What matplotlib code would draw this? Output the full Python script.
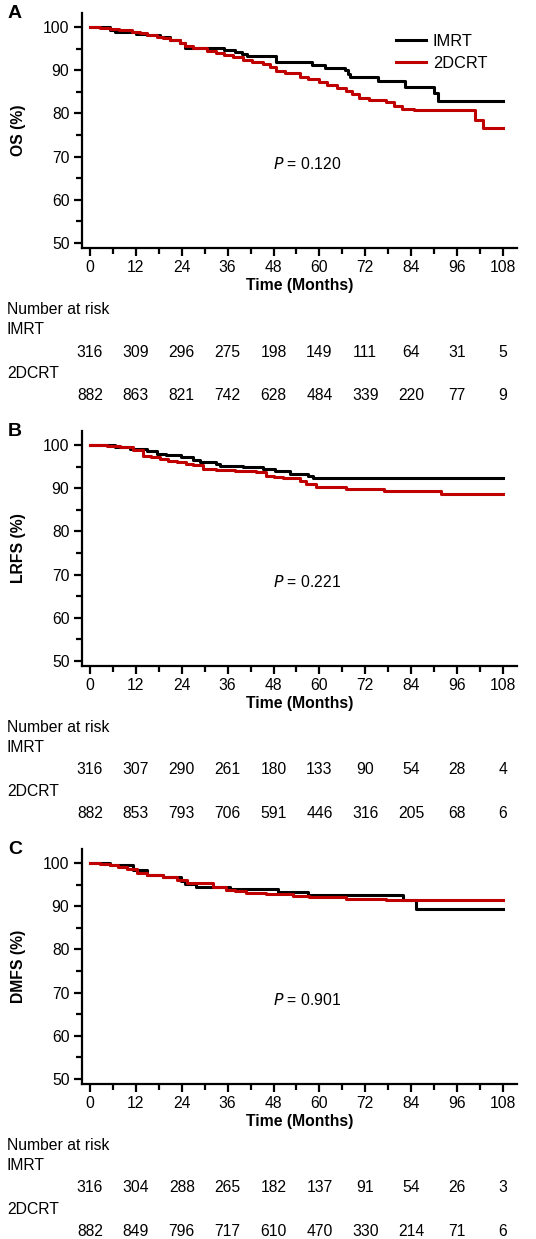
import matplotlib
matplotlib.use("Agg")
import matplotlib.pyplot as plt
import matplotlib.transforms as mtransforms
import numpy as np

plt.rcParams['font.family'] = ['Liberation Sans', 'DejaVu Sans']

months = [0, 12, 24, 36, 48, 60, 72, 84, 96, 108]

# OS
os_imrt_t = [0, 5.2, 6.5, 9, 12, 14.8, 18.3, 21, 23.5, 24.8, 35, 38, 39.8, 41, 48.6, 58, 61.4, 66.6, 67.5, 68, 75.3, 82.3, 90, 91, 108]
os_imrt_s = [100, 99.4, 99.0, 98.8, 98.5, 98.2, 97.7, 97.0, 96.3, 95.1, 94.8, 94.3, 93.8, 93.3, 92.0, 91.3, 90.6, 90.0, 89.2, 88.5, 87.6, 86.2, 84.8, 82.8, 82.8]
os_2d_t = [0, 2.6, 5.2, 7.5, 9.2, 11, 13, 15, 17.4, 19, 21, 23.5, 24.8, 27, 30.5, 33, 35, 37.4, 40, 42.5, 45.2, 47, 48.7, 51, 54.8, 57, 60, 62, 64.5, 66.9, 68.5, 70.4, 73, 77.3, 79.5, 81.6, 84.7, 100.8, 102.7, 108]
os_2d_s = [100, 99.8, 99.6, 99.4, 99.3, 99.0, 98.6, 98.2, 97.8, 97.4, 97.0, 96.3, 95.6, 95.1, 94.5, 94.0, 93.5, 93.0, 92.5, 92.0, 91.5, 90.8, 89.9, 89.3, 88.5, 88.0, 87.2, 86.6, 86.0, 85.3, 84.5, 83.6, 83.2, 82.6, 81.8, 81.0, 80.9, 78.6, 76.6, 76.6]
os_risk_imrt = [316, 309, 296, 275, 198, 149, 111, 64, 31, 5]
os_risk_2d = [882, 863, 821, 742, 628, 484, 339, 220, 77, 9]

# LRFS
lrfs_imrt_t = [0, 6.5, 10.5, 14.8, 17.4, 20, 23.9, 27, 28.7, 33, 34, 40, 45.3, 48.3, 52.2, 57, 58.3, 108]
lrfs_imrt_s = [100, 99.6, 99.2, 98.6, 97.9, 97.7, 97.3, 96.5, 96.0, 95.6, 95.2, 95.0, 94.6, 94.0, 93.4, 92.8, 92.3, 92.3]
lrfs_2d_t = [0, 4.4, 7.8, 11.3, 13.9, 16, 18.3, 20.5, 22.7, 25, 27, 29.6, 33, 38, 43.5, 46.1, 48, 50.5, 54.8, 56.6, 59.2, 66.9, 77.0, 91.7, 108]
lrfs_2d_s = [100, 99.8, 99.5, 98.8, 97.6, 97.2, 96.9, 96.4, 96.0, 95.6, 95.3, 94.6, 94.2, 94.0, 93.8, 92.9, 92.6, 92.3, 91.7, 90.9, 90.4, 89.9, 89.3, 88.6, 88.6]
lrfs_risk_imrt = [316, 307, 290, 261, 180, 133, 90, 54, 28, 4]
lrfs_risk_2d = [882, 853, 793, 706, 591, 446, 316, 205, 68, 6]

# DMFS
dmfs_imrt_t = [0, 5.2, 11.3, 14.8, 19.2, 23.9, 24.8, 27.8, 36.6, 41.8, 49.2, 57, 81.8, 85.3, 108]
dmfs_imrt_s = [100, 99.6, 98.4, 97.2, 96.9, 95.9, 95.2, 94.5, 94.1, 94.0, 93.3, 92.7, 91.5, 89.3, 89.3]
dmfs_2d_t = [0, 2.6, 5.2, 7.4, 9.6, 12.2, 14.8, 19.2, 22.7, 25.3, 29.6, 32.2, 35.7, 38, 40.9, 46.1, 53, 57.4, 66.9, 77.3, 108]
dmfs_2d_s = [100, 99.8, 99.6, 99.2, 98.6, 97.8, 97.2, 96.7, 96.1, 95.5, 95.3, 94.5, 93.9, 93.6, 93.2, 92.9, 92.5, 92.1, 91.8, 91.4, 91.4]
dmfs_risk_imrt = [316, 304, 288, 265, 182, 137, 91, 54, 26, 3]
dmfs_risk_2d = [882, 849, 796, 717, 610, 470, 330, 214, 71, 6]

panels = [
    ('A', 'OS (%)', '0.120', os_imrt_t, os_imrt_s, os_2d_t, os_2d_s, os_risk_imrt, os_risk_2d),
    ('B', 'LRFS (%)', '0.221', lrfs_imrt_t, lrfs_imrt_s, lrfs_2d_t, lrfs_2d_s, lrfs_risk_imrt, lrfs_risk_2d),
    ('C', 'DMFS (%)', '0.901', dmfs_imrt_t, dmfs_imrt_s, dmfs_2d_t, dmfs_2d_s, dmfs_risk_imrt, dmfs_risk_2d),
]

W, H = 536, 1239
fig = plt.figure(figsize=(W / 100, H / 100), dpi=100)
red = '#c00000'
fs = 11.3

for i, (letter, ylab, p, t1, s1, t2, s2, r1, r2) in enumerate(panels):
    top = 13 + 418 * i
    bottom = top + 235
    ax = fig.add_axes([82 / W, 1 - bottom / H, 435 / W, 235 / H])
    ax.step(t1, s1, where='post', color='black', lw=2.2, label='IMRT')
    ax.step(t2, s2, where='post', color=red, lw=2.2, label='2DCRT')
    ax.set_xlim(-2.1, 111.7)
    ax.set_ylim(48.8, 103.3)
    ax.spines['top'].set_visible(False)
    ax.spines['right'].set_visible(False)
    for sp in ['left', 'bottom']:
        ax.spines[sp].set_linewidth(1.6)
    ax.set_xticks(months)
    ax.set_xticks(np.arange(6, 108, 12), minor=True)
    ax.set_yticks([50, 60, 70, 80, 90, 100])
    ax.set_yticks([55, 65, 75, 85, 95], minor=True)
    ax.tick_params(which='major', length=6, width=1.6, labelsize=fs, pad=3)
    ax.tick_params(which='minor', length=4, width=1.6)
    ax.set_xlabel('Time (Months)', fontsize=fs, fontweight='bold', labelpad=2)
    ax.set_ylabel(ylab, fontsize=fs, fontweight='bold', labelpad=12)
    ax.text(56.7, 68.2, '$\\it{P}$ = ' + p, fontsize=fs, ha='center', va='center')
    fig.text(8 / W, 1 - (top + 1) / H, letter, fontsize=14, fontweight='bold', ha='left', va='center')
    if i == 0:
        ax.legend(loc='upper left', bbox_to_anchor=(0.722, 0.91), frameon=False, fontsize=fs + 0.5,
                  handlelength=1.8, handletextpad=0.45, labelspacing=0.42, borderpad=0, borderaxespad=0)

    # number at risk table
    tr = mtransforms.blended_transform_factory(ax.transData, fig.transFigure)
    fig.text(7 / W, 1 - (bottom + 62) / H, 'Number at risk', fontsize=fs, ha='left', va='center')
    fig.text(7 / W, 1 - (bottom + 82) / H, 'IMRT', fontsize=fs, ha='left', va='center')
    fig.text(7 / W, 1 - (bottom + 125) / H, '2DCRT', fontsize=fs, ha='left', va='center')
    for m, n1, n2 in zip(months, r1, r2):
        ax.text(m, 1 - (bottom + 104) / H, str(n1), transform=tr, fontsize=fs, ha='center', va='center')
        ax.text(m, 1 - (bottom + 147) / H, str(n2), transform=tr, fontsize=fs, ha='center', va='center')

plt.savefig('out.png', dpi=100)
